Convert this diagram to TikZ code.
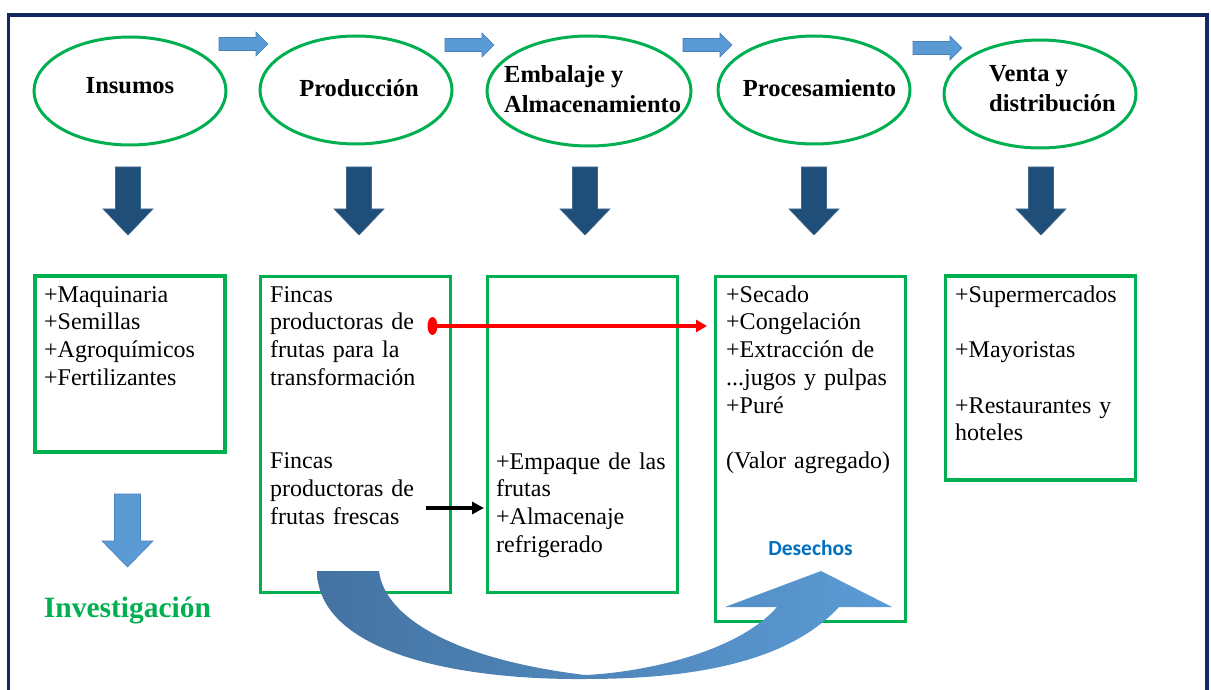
\documentclass[tikz,border=0pt]{standalone}
\usepackage{fontspec}
\setmainfont{Liberation Serif}
\newfontfamily\calib{Carlito}
\usetikzlibrary{shapes.geometric,arrows.meta}
\definecolor{gr}{HTML}{00B050}
\definecolor{navy}{HTML}{12295F}
\definecolor{lblue}{HTML}{5B9BD5}
\definecolor{lblueedge}{HTML}{4A7EBB}
\definecolor{dblue}{HTML}{1F4E79}
\definecolor{cblue}{HTML}{4473A2}
\definecolor{desblue}{HTML}{0070C0}
\tikzset{
  ell/.style={ellipse, draw=gr, line width=3pt, inner sep=0pt, minimum width=192pt, minimum height=108pt},
  gbox/.style={rectangle, draw=gr, line width=3.2pt, inner sep=0pt, outer sep=0pt, minimum width=190pt},
  head/.style={font=\fontsize{24.5}{30}\selectfont\bfseries, inner sep=0pt},
  body/.style={font=\fontsize{24}{27.75}\selectfont, inner sep=0pt, align=left, text width=180pt, anchor=base west},
  smallarr/.style={fill=lblue, draw=lblueedge, line width=0.6pt},
  bigarr/.style={fill=dblue, draw=dblue!85!white, line width=0.6pt},
  rarr/.pic={\path[smallarr] (0,-6.5) -- (37,-6.5) -- (37,-12) -- (49,0) -- (37,12) -- (37,6.5) -- (0,6.5) -- cycle;},
  darr/.pic={\path[bigarr] (-12.5,0) -- (12.5,0) -- (12.5,42) -- (25,42) -- (0,68) -- (-25,42) -- (-12.5,42) -- cycle;},
}
\begin{document}
\begin{tikzpicture}[x=1pt,y=-1pt]
\useasboundingbox (0,0) rectangle (1211,690);
% frame
\draw[navy, line width=3.5pt] (8.5,690) -- (8.5,15) -- (1207,15) -- (1207,690);

% ellipses
\node[ell] (e1) at (130,91) {};
\node[ell] (e2) at (356,90) {};
\node[ell, minimum width=204pt, minimum height=110pt] (e3) at (589,91) {};
\node[ell] (e4) at (814,90) {};
\node[ell] (e5) at (1040,94) {};

% ellipse texts
\node[head, anchor=base] (t1) at (130,94) {Insumos};
\node[head, anchor=base] (t2) at (359,97) {Producción};
\node[head, anchor=base west] (t3a) at (504,83) {Embalaje y};
\node[head, anchor=base west] (t3b) at (504,113) {Almacenamiento};
\node[head, anchor=base] (t4) at (819.5,97) {Procesamiento};
\node[head, anchor=base west] (t5a) at (989,82) {Venta y};
\node[head, anchor=base west] (t5b) at (989,112) {distribución};

% small right arrows
\pic at (219,44) {rarr};
\pic at (445,45) {rarr};
\pic at (683,45) {rarr};
\pic at (913,48) {rarr};

% big down arrows
\pic at (128,167) {darr};
\pic at (359,167) {darr};
\pic at (585,167) {darr};
\pic at (814,167) {darr};
\pic at (1041,167) {darr};

% boxes
\node[gbox, minimum height=176pt] (b1) at (130,364) {};
\node[gbox, minimum height=316pt] (b2) at (355.5,434.5) {};
\node[gbox, minimum height=316pt] (b3) at (582.5,434.5) {};
\node[gbox, minimum height=345pt] (b4) at (810.5,449) {};
\node[gbox, minimum height=204pt] (b5) at (1040.5,378) {};

% box texts
\node[body] (x1) at (44,302) {+Maquinaria\\+Semillas\\+Agroquímicos\\+Fertilizantes};
\node[body] (x2) at (270,302) {Fincas\\productoras de\\frutas para la\\transformación\\\mbox{}\\\mbox{}\\Fincas\\productoras de\\frutas frescas};
\node[body] (x3) at (496,469) {+Empaque de las\\frutas\\+Almacenaje\\refrigerado};
\node[body] (x4) at (726,302) {+Secado\\+Congelación\\+Extracción de\\...jugos y pulpas\\+Puré\\\mbox{}\\(Valor agregado)};
\node[body] (x5) at (955,302) {+Supermercados\\\mbox{}\\+Mayoristas\\\mbox{}\\+Restaurantes y\\hoteles};

% red connector
\node[ellipse, fill=red, minimum width=10pt, minimum height=18pt, inner sep=0pt] (rdot) at (432.5,326) {};
\draw[red, line width=3.8pt, -{Triangle[length=11pt,width=12pt]}, shorten >=8.5pt] (rdot.center) -- (rdot.center -| b4.west);

% black connector
\coordinate (bstart) at (426,508);
\draw[black, line width=4pt, -{Triangle[length=12pt,width=12pt]}, shorten >=3.5pt] (bstart) -- (bstart -| b3.west);

% Investigacion
\path[smallarr] (114.5,494) -- (140.5,494) -- (140.5,541) -- (153,541) -- (127.5,567) -- (102,541) -- (114.5,541) -- cycle;
\node[font=\fontsize{29.5}{34}\selectfont\bfseries, text=gr, anchor=base, inner sep=0pt] (inv) at (127.5,617) {Investigación};

% Desechos
\node[font=\calib\bfseries\fontsize{21.5}{26}\selectfont, text=desblue, anchor=base, inner sep=0pt] (des) at (810.5,555) {Desechos};

% curved arrow
\shade[left color=cblue, right color=lblue]
  (317,571) .. controls (318,650) and (450,680) .. (585,679)
  .. controls (700,679) and (790,660) .. (839,607)
  -- (892,607) -- (821,571) -- (725,607) -- (777,607)
  .. controls (740,650) and (650,672) .. (585,675)
  .. controls (460,660) and (385,620) .. (379,571) -- cycle;
\end{tikzpicture}
\end{document}
